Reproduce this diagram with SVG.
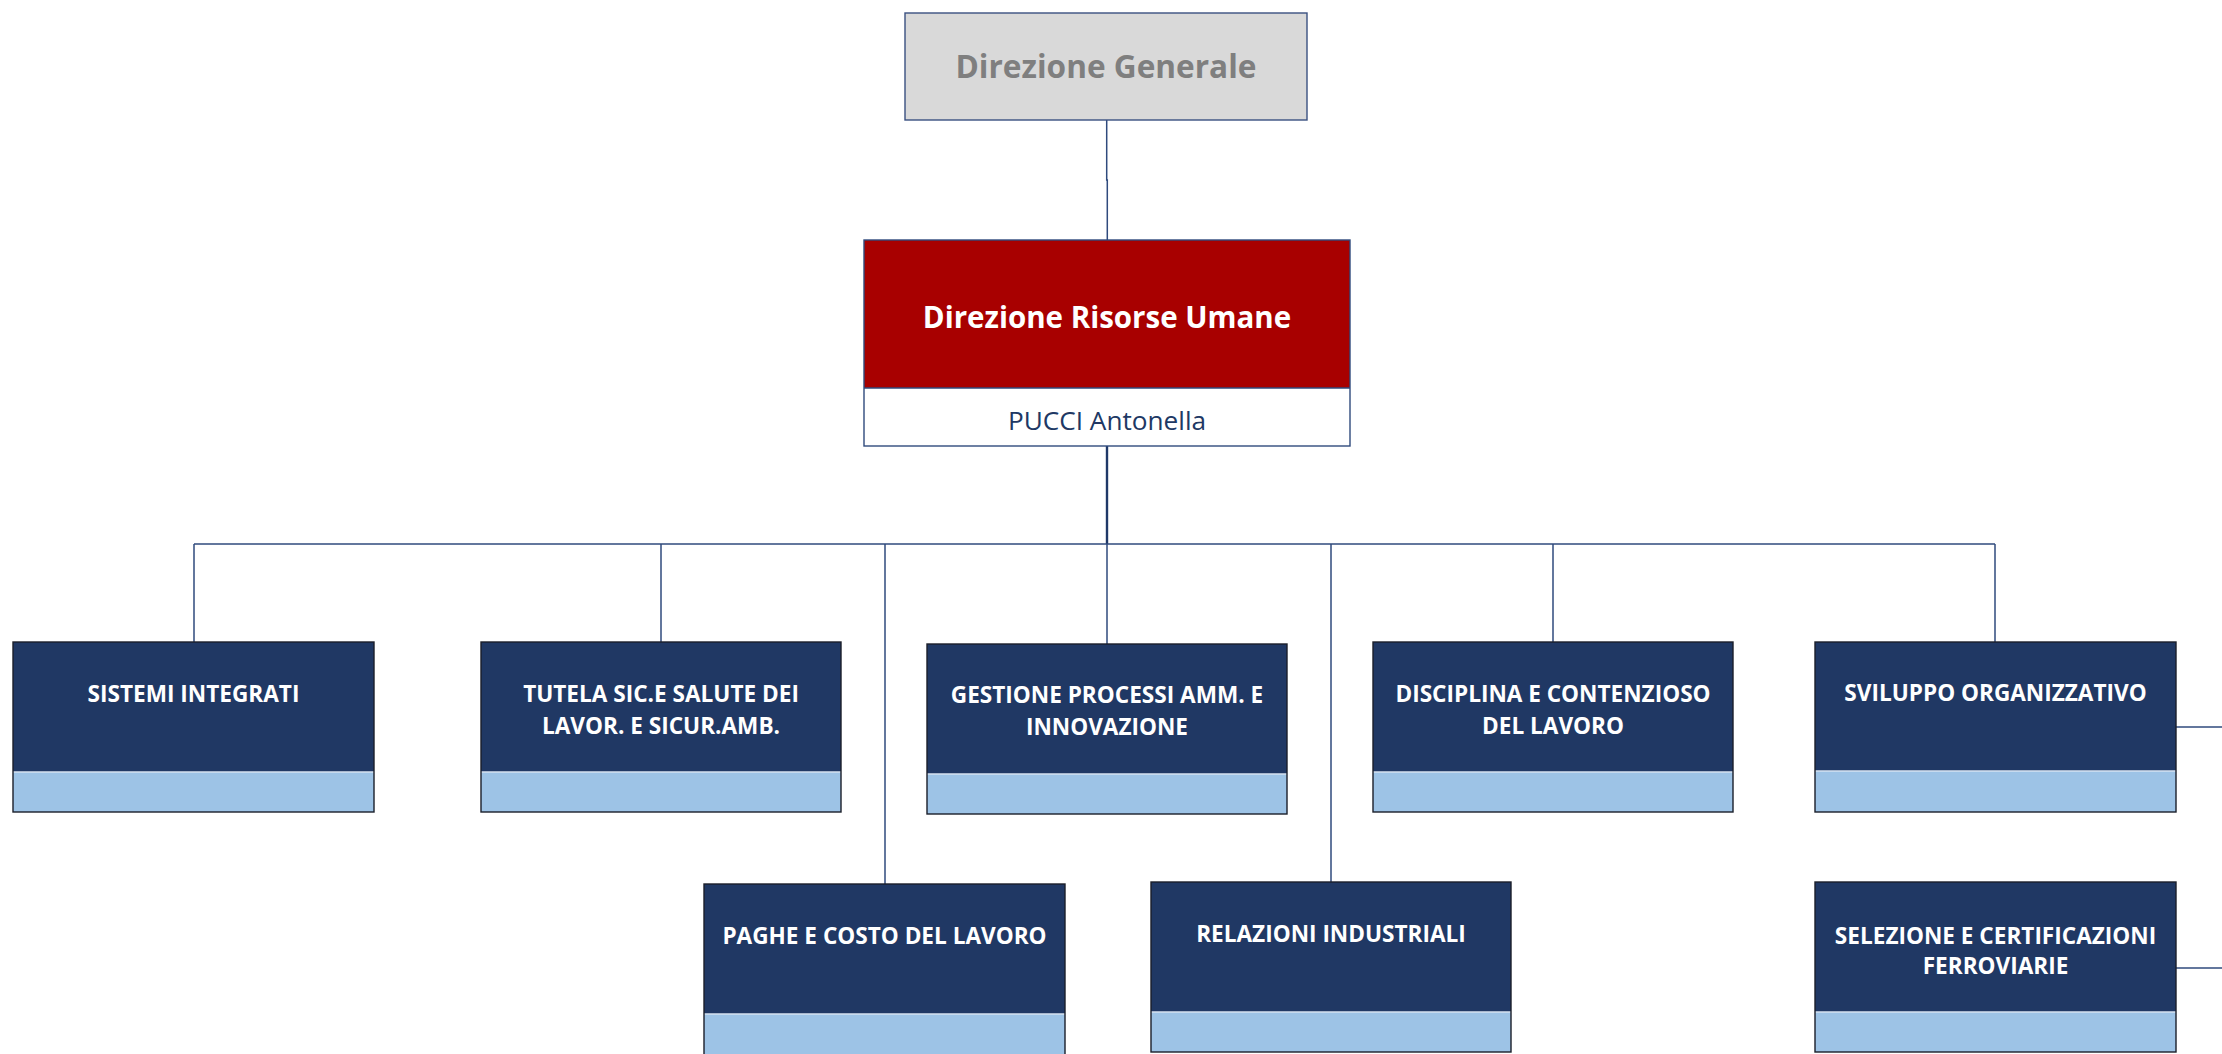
<svg xmlns="http://www.w3.org/2000/svg" width="2222" height="1054" viewBox="0 0 2222 1054">
  <style>
    .wire { fill: none; stroke: #2f4a7d; stroke-width: 1.5; }
    .trunk { fill: none; stroke: #1f3868; stroke-width: 2.4; }
    .unit { fill: #203864; }
    .band { fill: #9dc3e6; }
    .frame { fill: none; stroke: #1b1f2a; stroke-width: 1.4; }
    .sep { stroke: #d6e2f0; stroke-width: 1.4; }
    .ut { font-family: "Open Sans", "Liberation Sans", sans-serif; font-weight: 700; font-size: 22.6px; fill: #ffffff; text-anchor: middle; }
  </style>
  <rect width="2222" height="1054" fill="#ffffff"/>

  <!-- connectors -->
  <g id="connectors">
    <path class="wire" d="M1106.7 120 V180 H1107.3 V240"/>
    <path class="trunk" d="M1107 446 V544"/>
    <path class="wire" d="M194 544 H1995"/>
    <path class="wire" d="M194 544 V642"/>
    <path class="wire" d="M661 544 V642"/>
    <path class="wire" d="M885 544 V884"/>
    <path class="wire" d="M1107 544 V644"/>
    <path class="wire" d="M1331 544 V882"/>
    <path class="wire" d="M1553 544 V642"/>
    <path class="wire" d="M1995 544 V642"/>
    <path class="wire" d="M2176 727 H2222"/>
    <path class="wire" d="M2176 968 H2222"/>
  </g>

  <!-- top management -->
  <g id="direzione-generale">
    <rect x="905" y="13" width="402" height="107" fill="#d9d9d9" stroke="#3a5080" stroke-width="1.4"/>
    <text x="1106" y="78" font-family="'Open Sans', 'Liberation Sans', sans-serif" font-weight="700" font-size="31.6" fill="#7f7f7f" text-anchor="middle">Direzione Generale</text>
  </g>

  <g id="direzione-risorse-umane">
    <rect x="864" y="240" width="486" height="148" fill="#a80000"/>
    <rect x="864" y="388" width="486" height="58" fill="#ffffff"/>
    <rect x="864" y="240" width="486" height="206" fill="none" stroke="#2f4a7d" stroke-width="1.4"/>
    <line x1="864" y1="388" x2="1350" y2="388" stroke="#2f4a7d" stroke-width="1.4"/>
    <text x="1107" y="328" font-family="'Open Sans', 'Liberation Sans', sans-serif" font-weight="700" font-size="29.5" fill="#ffffff" text-anchor="middle">Direzione Risorse Umane</text>
    <text x="1107" y="430" font-family="'Open Sans', 'Liberation Sans', sans-serif" font-size="26.2" fill="#203864" text-anchor="middle">PUCCI Antonella</text>
  </g>

  <!-- first row of units -->
  <g id="sistemi-integrati">
    <rect class="unit" x="13" y="642" width="361" height="130"/>
    <rect class="band" x="13" y="772" width="361" height="40"/>
    <line class="sep" x1="13" y1="772" x2="374" y2="772"/>
    <rect class="frame" x="13" y="642" width="361" height="170"/>
    <text class="ut" x="193.5" y="702">SISTEMI INTEGRATI</text>
  </g>

  <g id="tutela-sicurezza">
    <rect class="unit" x="481" y="642" width="360" height="130"/>
    <rect class="band" x="481" y="772" width="360" height="40"/>
    <line class="sep" x1="481" y1="772" x2="841" y2="772"/>
    <rect class="frame" x="481" y="642" width="360" height="170"/>
    <text class="ut" x="661" y="702">TUTELA SIC.E SALUTE DEI</text>
    <text class="ut" x="661" y="733.5">LAVOR. E SICUR.AMB.</text>
  </g>

  <g id="gestione-processi">
    <rect class="unit" x="927" y="644" width="360" height="130"/>
    <rect class="band" x="927" y="774" width="360" height="40"/>
    <line class="sep" x1="927" y1="774" x2="1287" y2="774"/>
    <rect class="frame" x="927" y="644" width="360" height="170"/>
    <text class="ut" x="1107" y="703">GESTIONE PROCESSI AMM. E</text>
    <text class="ut" x="1107" y="734.5">INNOVAZIONE</text>
  </g>

  <g id="disciplina-contenzioso">
    <rect class="unit" x="1373" y="642" width="360" height="130"/>
    <rect class="band" x="1373" y="772" width="360" height="40"/>
    <line class="sep" x1="1373" y1="772" x2="1733" y2="772"/>
    <rect class="frame" x="1373" y="642" width="360" height="170"/>
    <text class="ut" x="1553" y="702">DISCIPLINA E CONTENZIOSO</text>
    <text class="ut" x="1553" y="733.5">DEL LAVORO</text>
  </g>

  <g id="sviluppo-organizzativo">
    <rect class="unit" x="1815" y="642" width="361" height="129"/>
    <rect class="band" x="1815" y="771" width="361" height="41"/>
    <line class="sep" x1="1815" y1="771" x2="2176" y2="771"/>
    <rect class="frame" x="1815" y="642" width="361" height="170"/>
    <text class="ut" x="1995.5" y="701">SVILUPPO ORGANIZZATIVO</text>
  </g>

  <!-- second row of units -->
  <g id="paghe-costo-lavoro">
    <rect class="unit" x="704" y="884" width="361" height="130"/>
    <rect class="band" x="704" y="1014" width="361" height="44"/>
    <line class="sep" x1="704" y1="1014" x2="1065" y2="1014"/>
    <rect class="frame" x="704" y="884" width="361" height="174"/>
    <text class="ut" x="884.5" y="944">PAGHE E COSTO DEL LAVORO</text>
  </g>

  <g id="relazioni-industriali">
    <rect class="unit" x="1151" y="882" width="360" height="130"/>
    <rect class="band" x="1151" y="1012" width="360" height="40"/>
    <line class="sep" x1="1151" y1="1012" x2="1511" y2="1012"/>
    <rect class="frame" x="1151" y="882" width="360" height="170"/>
    <text class="ut" x="1331" y="942">RELAZIONI INDUSTRIALI</text>
  </g>

  <g id="selezione-certificazioni">
    <rect class="unit" x="1815" y="882" width="361" height="130"/>
    <rect class="band" x="1815" y="1012" width="361" height="40"/>
    <line class="sep" x1="1815" y1="1012" x2="2176" y2="1012"/>
    <rect class="frame" x="1815" y="882" width="361" height="170"/>
    <text class="ut" x="1995.5" y="944">SELEZIONE E CERTIFICAZIONI</text>
    <text class="ut" x="1995.5" y="974">FERROVIARIE</text>
  </g>
</svg>
